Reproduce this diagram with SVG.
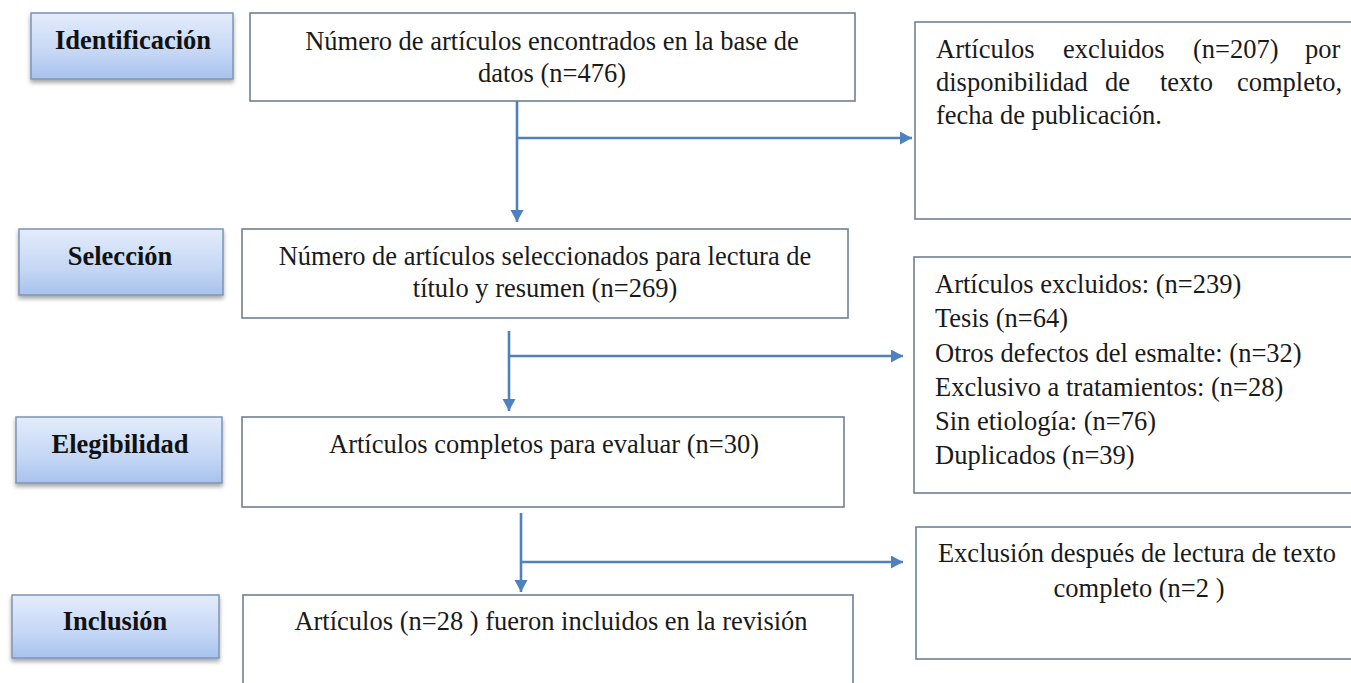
<svg xmlns="http://www.w3.org/2000/svg" width="1351" height="683" viewBox="0 0 1351 683">
<defs>
<linearGradient id="lg" x1="0" y1="0" x2="0" y2="1">
<stop offset="0" stop-color="#e3ecfb"/>
<stop offset="0.6" stop-color="#c5d7f5"/>
<stop offset="1" stop-color="#a7c2ee"/>
</linearGradient>
<filter id="sh" x="-10%" y="-10%" width="120%" height="140%">
<feDropShadow dx="0" dy="3" stdDeviation="2" flood-color="#000" flood-opacity="0.35"/>
</filter>
<marker id="ah" markerUnits="userSpaceOnUse" markerWidth="14" markerHeight="14" refX="12" refY="6.5" orient="auto">
<path d="M0,0 L12,6.5 L0,13 Z" fill="#4f81bd"/>
</marker>
<style>
.lab{fill:url(#lg);stroke:#7e94b6;stroke-width:1.5;filter:url(#sh)}
.box{fill:#fff;stroke:#6f8097;stroke-width:1.6}
.lt{font-family:"Liberation Serif","Times New Roman",serif;font-weight:bold;font-size:26.5px;fill:#111;text-anchor:middle}
.t{font-family:"Liberation Serif","Times New Roman",serif;font-size:26.5px;fill:#1a1a1a}
.c{text-anchor:middle}
.ar{fill:none;stroke:#4f81bd;stroke-width:2.6}
</style>
</defs>
<rect width="1351" height="683" fill="#fff"/>

<g id="label-identificacion">
<rect class="lab" x="31" y="13" width="202" height="66"/>
<text class="lt" x="133" y="49">Identificación</text>
</g>
<g id="label-seleccion">
<rect class="lab" x="19" y="229" width="204" height="66"/>
<text class="lt" x="120" y="265">Selección</text>
</g>
<g id="label-elegibilidad">
<rect class="lab" x="16" y="417" width="206" height="66"/>
<text class="lt" x="120" y="453">Elegibilidad</text>
</g>
<g id="label-inclusion">
<rect class="lab" x="12" y="595" width="207" height="63"/>
<text class="lt" x="115" y="630">Inclusión</text>
</g>

<g id="box-identificacion">
<rect class="box" x="250" y="13" width="605" height="88"/>
<text class="t c" x="552" y="50">Número de artículos encontrados en la base de</text>
<text class="t c" x="552" y="82">datos (n=476)</text>
</g>
<g id="box-seleccion">
<rect class="box" x="242" y="229" width="606" height="89"/>
<text class="t c" x="545" y="265">Número de artículos seleccionados para lectura de</text>
<text class="t c" x="545" y="297">título y resumen (n=269)</text>
</g>
<g id="box-elegibilidad">
<rect class="box" x="242" y="417" width="602" height="90"/>
<text class="t c" x="544" y="453">Artículos completos para evaluar (n=30)</text>
</g>
<g id="box-inclusion">
<rect class="box" x="243" y="595" width="610" height="110"/>
<text class="t c" x="551" y="630">Artículos (n=28 ) fueron incluidos en la revisión</text>
</g>

<g id="excl-1">
<rect class="box" x="915" y="22" width="460" height="197"/>
<text class="t" y="58"><tspan x="936">Artículos</tspan><tspan x="1063">excluidos</tspan><tspan x="1193">(n=207)</tspan><tspan x="1305">por</tspan></text>
<text class="t" y="91"><tspan x="936">disponibilidad</tspan><tspan x="1105">de</tspan><tspan x="1160">texto</tspan><tspan x="1237">completo,</tspan></text>
<text class="t" x="936" y="124">fecha de publicación.</text>
</g>
<g id="excl-2">
<rect class="box" x="914" y="257" width="460" height="236"/>
<text class="t" x="935" y="293">Artículos excluidos: (n=239)</text>
<text class="t" x="935" y="327">Tesis (n=64)</text>
<text class="t" x="935" y="362">Otros defectos del esmalte: (n=32)</text>
<text class="t" x="935" y="396">Exclusivo a tratamientos: (n=28)</text>
<text class="t" x="935" y="430">Sin etiología: (n=76)</text>
<text class="t" x="935" y="464">Duplicados (n=39)</text>
</g>
<g id="excl-3">
<rect class="box" x="916" y="527" width="460" height="132"/>
<text class="t c" x="1137" y="562">Exclusión después de lectura de texto</text>
<text class="t c" x="1139" y="597">completo (n=2 )</text>
</g>

<g id="connectors">
<path class="ar" d="M517,101 V222" marker-end="url(#ah)"/>
<path class="ar" d="M518,138 H912" marker-end="url(#ah)"/>
<path class="ar" d="M509,331 V411" marker-end="url(#ah)"/>
<path class="ar" d="M510,356 H903" marker-end="url(#ah)"/>
<path class="ar" d="M521,513 V592" marker-end="url(#ah)"/>
<path class="ar" d="M522,562 H903" marker-end="url(#ah)"/>
</g>
</svg>
